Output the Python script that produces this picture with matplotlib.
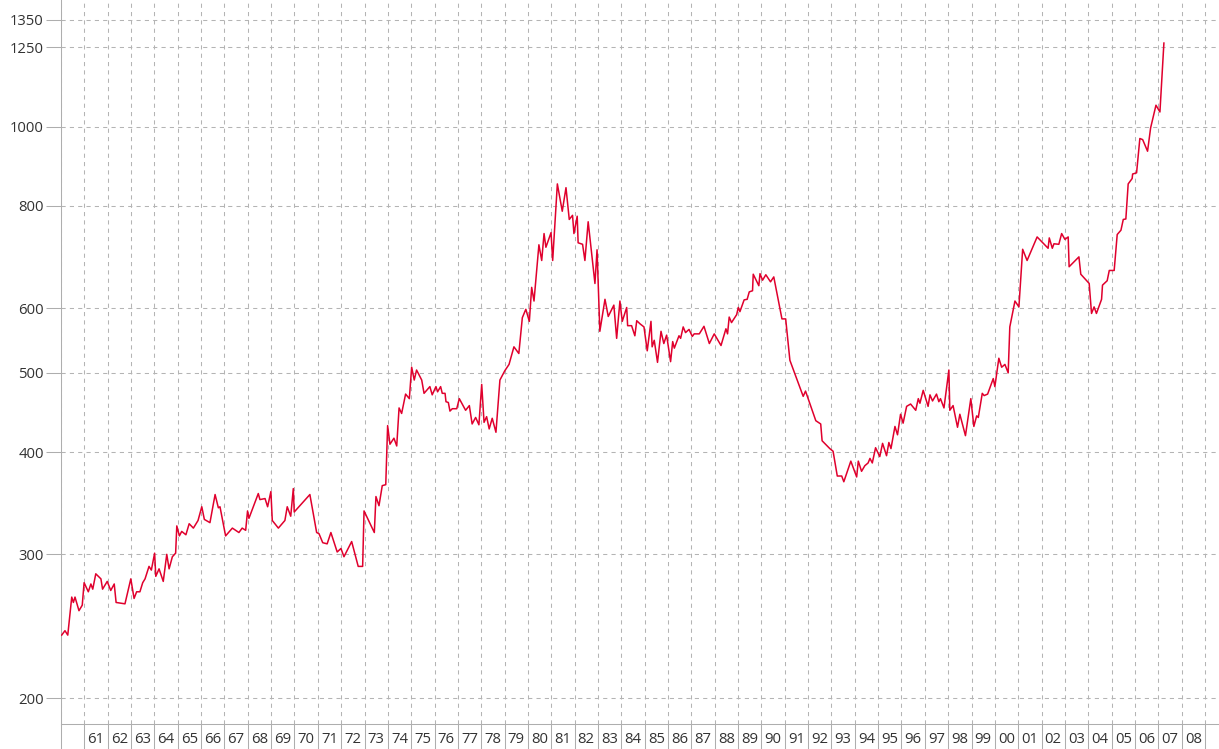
import numpy as np
import matplotlib.pyplot as plt

# Schriftart: Open Sans, falls nicht vorhanden DejaVu
plt.rcParams['font.family'] = ['Open Sans', 'DejaVu Sans']

# Kursverlauf (Jahr als Dezimalzahl, Wert)
years = [
    1960.03, 1960.17, 1960.29, 1960.46, 1960.53, 1960.60, 1960.77, 1960.91, 1960.99,
    1961.17, 1961.28, 1961.36, 1961.49, 1961.71, 1961.78, 1961.98,
    1962.13, 1962.28, 1962.36, 1962.74, 1962.99,
    1963.13, 1963.24, 1963.38, 1963.50, 1963.60, 1963.77, 1963.87,
    1964.01, 1964.06, 1964.20, 1964.38, 1964.53, 1964.63, 1964.77, 1964.91, 1964.96,
    1965.07, 1965.17, 1965.35, 1965.49, 1965.67, 1965.87,
    1966.03, 1966.14, 1966.38, 1966.60, 1966.74, 1966.81,
    1967.05, 1967.34, 1967.62, 1967.76, 1967.91, 1967.99,
    1968.05, 1968.45, 1968.52, 1968.74, 1968.85, 1968.99,
    1969.05, 1969.31, 1969.59, 1969.69, 1969.84, 1969.95, 1969.99,
    1970.66, 1970.95,
    1971.05, 1971.21, 1971.40, 1971.56, 1971.83, 1971.99,
    1972.12, 1972.45, 1972.73, 1972.92, 1972.98,
    1973.42, 1973.49, 1973.62, 1973.76, 1973.91, 1973.99,
    1974.09, 1974.26, 1974.38, 1974.48, 1974.59, 1974.76, 1974.92,
    1975.02, 1975.13, 1975.23, 1975.45, 1975.55, 1975.80, 1975.90,
    1976.06, 1976.13, 1976.26, 1976.33, 1976.45, 1976.49, 1976.59, 1976.66, 1976.76, 1976.95,
    1977.06, 1977.33, 1977.49, 1977.61, 1977.76, 1977.90,
    1978.02, 1978.12, 1978.23, 1978.34, 1978.47, 1978.63, 1978.80,
    1979.01, 1979.19, 1979.40, 1979.61, 1979.76, 1979.91,
    1980.06, 1980.16, 1980.26, 1980.47, 1980.59, 1980.69, 1980.77, 1980.99,
    1981.06, 1981.26, 1981.47, 1981.63, 1981.77, 1981.91, 1981.97,
    1982.11, 1982.15, 1982.34, 1982.44, 1982.58, 1982.87, 1982.96,
    1983.08, 1983.30, 1983.44, 1983.68, 1983.80, 1983.94,
    1984.04, 1984.23, 1984.27, 1984.44, 1984.58, 1984.66, 1984.80, 1984.97,
    1985.11, 1985.27, 1985.32, 1985.41, 1985.55, 1985.70, 1985.82, 1985.94,
    1986.11, 1986.20, 1986.27, 1986.47, 1986.54, 1986.65, 1986.75, 1986.90,
    1987.04, 1987.12, 1987.34, 1987.54, 1987.77, 1987.98,
    1988.27, 1988.48, 1988.55, 1988.62, 1988.72, 1988.94,
    1989.01, 1989.08, 1989.26, 1989.39, 1989.48, 1989.62, 1989.65, 1989.89, 1989.94,
    1990.05, 1990.19, 1990.39, 1990.53, 1990.88,
    1991.04, 1991.22, 1991.79, 1991.89,
    1992.33, 1992.54, 1992.60, 1992.93,
    1993.07, 1993.25, 1993.44, 1993.53, 1993.83,
    1994.08, 1994.15, 1994.29, 1994.43, 1994.57, 1994.65, 1994.75, 1994.89,
    1995.07, 1995.19, 1995.36, 1995.46, 1995.55, 1995.72, 1995.83, 1995.96,
    1996.07, 1996.22, 1996.39, 1996.61, 1996.72, 1996.79, 1996.93,
    1997.14, 1997.22, 1997.33, 1997.50, 1997.60, 1997.67, 1997.82,
    1998.03, 1998.07, 1998.21, 1998.40, 1998.50, 1998.74, 1998.97,
    1999.10, 1999.22, 1999.29, 1999.46, 1999.54, 1999.69, 1999.93,
    2000.00, 2000.17, 2000.29, 2000.43, 2000.57, 2000.64, 2000.86,
    2001.03, 2001.19, 2001.38, 2001.81,
    2002.28, 2002.33, 2002.46, 2002.53, 2002.74, 2002.86,
    2003.00, 2003.14, 2003.18, 2003.60, 2003.68,
    2004.04, 2004.14, 2004.25, 2004.35, 2004.57, 2004.61, 2004.81, 2004.90,
    2005.11, 2005.24, 2005.40, 2005.50, 2005.61, 2005.71, 2005.88, 2005.90,
    2006.07, 2006.21, 2006.33, 2006.54, 2006.67, 2006.90,
    2007.07, 2007.24,
]
values = [
    239, 242, 239, 266, 262, 266, 256, 260, 277,
    270, 276, 272, 284, 280, 272, 278,
    271, 276, 262, 261, 280,
    265, 270, 270, 277, 280, 290, 287,
    301, 282, 288, 278, 300, 288, 298, 301, 325,
    316, 320, 317, 327, 323, 330,
    343, 331, 328, 355, 342, 343,
    316, 323, 319, 323, 321, 339,
    332, 356, 350, 351, 343, 358,
    330, 323, 330, 343, 334, 361, 338,
    355, 319,
    318, 310, 309, 319, 302, 305,
    298, 311, 290, 290, 339,
    319, 353, 344, 364, 365, 431,
    409, 416, 407, 453, 446, 471, 465,
    508, 490, 504, 490, 472, 481, 470,
    481, 474, 481, 472, 472, 461, 460, 449, 452, 452,
    465, 450, 456, 433, 441, 432,
    484, 435, 442, 427, 440, 423, 490,
    503, 512, 538, 528, 584, 598,
    578, 636, 612, 717, 686, 740, 712, 742,
    686, 851, 788, 842, 770, 779, 740,
    777, 721, 718, 686, 765, 643, 707,
    562, 615, 586, 605, 551, 612,
    578, 601, 571, 571, 555, 579, 574, 569,
    532, 578, 538, 548, 515, 562, 543, 556,
    516, 546, 536, 555, 551, 569, 560, 565,
    554, 558, 558, 570, 543, 558,
    540, 566, 558, 585, 576, 589,
    601, 594, 614, 615, 628, 630, 660, 639, 661,
    649, 659, 646, 655, 582,
    582, 518, 468, 475,
    437, 433, 413, 404,
    401, 374, 374, 368, 390,
    373, 390, 379, 385, 388, 393, 388, 405,
    395, 410, 396, 411, 404, 430, 420, 445,
    434, 455, 458, 450, 465, 459, 476,
    455, 470, 462, 471, 461, 465, 453,
    504, 450, 456, 429, 445, 419, 465,
    430, 443, 441, 472, 469, 471, 492,
    481, 521, 508, 512, 500, 569, 612,
    602, 708, 686, 733,
    710, 731, 710, 719, 718, 740,
    728, 733, 674, 693, 660,
    643, 591, 602, 591, 615, 640, 648, 667,
    667, 738, 747, 770, 771, 851, 864, 875,
    878, 967, 964, 933, 996, 1062,
    1042, 1265,
]

ytick_values = [200, 300, 400, 500, 600, 800, 1000, 1250, 1350]
first_year = 1960
last_year = 2009

line_color = '#e0002d'
axis_color = '#aeaeae'
grid_color = '#b4b4b4'
text_color = '#333333'

fig = plt.figure(figsize=(12.19, 7.49), dpi=100)
ax = fig.add_axes([61 / 1219, 25 / 749, 1158 / 1219, 724 / 749])

ax.plot(years, values, color=line_color, lw=1.1, zorder=3)

ax.set_yscale('log')
ax.set_ylim(186.1, 1428)
ax.set_xlim(first_year, 2009.6)

# y-Achse
ax.set_yticks(ytick_values)
ax.set_yticklabels([str(v) for v in ytick_values])
ax.yaxis.set_minor_locator(plt.NullLocator())
ax.tick_params(axis='y', length=11, width=0.75, color=axis_color, pad=1.5,
               labelsize=10.7, labelcolor=text_color)

# x-Achse: Trennstriche an den Jahresgrenzen, Beschriftung in der Mitte
bounds = np.arange(first_year, last_year + 1)
centers = np.arange(first_year + 1, last_year) + 0.5
ax.set_xticks(bounds)
ax.set_xticklabels([])
ax.set_xticks(centers, minor=True)
ax.set_xticklabels([f"{int(y) % 100:02d}" for y in centers], minor=True)
ax.tick_params(axis='x', which='major', length=18, width=0.75, color=axis_color)
ax.tick_params(axis='x', which='minor', length=0, pad=5.8,
               labelsize=10.7, labelcolor=text_color)

ax.grid(True, which='major', axis='both', color=grid_color, lw=0.75,
        linestyle=(0, (4, 4)))

for side in ['top', 'right']:
    ax.spines[side].set_visible(False)
for side in ['left', 'bottom']:
    ax.spines[side].set_color(axis_color)
    ax.spines[side].set_linewidth(0.75)

fig.savefig('out.png', dpi=100)
